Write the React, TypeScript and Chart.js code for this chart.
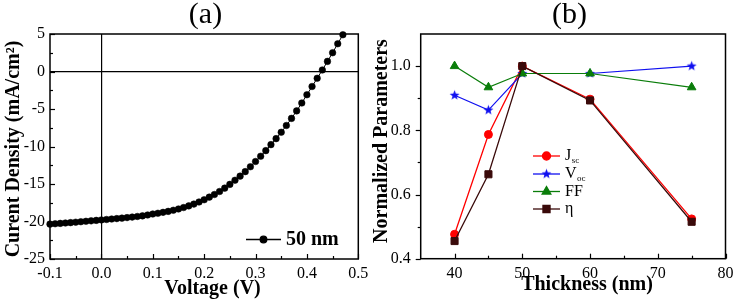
import React, { useEffect, useRef } from "react";
import { Chart, registerables } from "chart.js";
import { drawPoint } from "chart.js/helpers";

Chart.register(...registerables);

const FONT = "'Liberation Serif', 'Times New Roman', serif";

// ---------- Panel (a): J-V curve ----------
const voltage = [
  -0.1, -0.09, -0.08, -0.07, -0.06, -0.05, -0.04, -0.03, -0.02, -0.01,
  0.0, 0.01, 0.02, 0.03, 0.04, 0.05, 0.06, 0.07, 0.08, 0.09,
  0.1, 0.11, 0.12, 0.13, 0.14, 0.15, 0.16, 0.17, 0.18, 0.19,
  0.2, 0.21, 0.22, 0.23, 0.24, 0.25, 0.26, 0.27, 0.28, 0.29,
  0.3, 0.31, 0.32, 0.33, 0.34, 0.35, 0.36, 0.37, 0.38, 0.39,
  0.4, 0.41, 0.42, 0.43, 0.44, 0.45, 0.46, 0.47,
];
const currentDensity = [
  -20.35, -20.3, -20.25, -20.2, -20.15, -20.09, -20.03, -19.97, -19.91, -19.85,
  -19.79, -19.73, -19.67, -19.61, -19.55, -19.48, -19.41, -19.33, -19.25, -19.13,
  -19.0, -18.9, -18.78, -18.65, -18.5, -18.33, -18.14, -17.92, -17.68, -17.4,
  -17.1, -16.75, -16.4, -16.0, -15.55, -15.05, -14.5, -13.95, -13.35, -12.7,
  -12.0, -11.3, -10.55, -9.75, -8.95, -8.1, -7.2, -6.25, -5.25, -4.2,
  -3.1, -2.0, -0.9, 0.2, 1.35, 2.5, 3.7, 4.9,
];
const voltageTicks = [-0.1, 0, 0.1, 0.2, 0.3, 0.4, 0.5];
const voltageMinorTicks = [-0.05, 0.05, 0.15, 0.25, 0.35, 0.45];
const currentTicks = [5, 0, -5, -10, -15, -20, -25];
const currentMinorTicks = [2.5, -2.5, -7.5, -12.5, -17.5, -22.5];
const seriesLabelA = "50 nm";

// ---------- Panel (b): normalized parameters ----------
const thickness = [40, 45, 50, 60, 75];
const jsc = [0.476, 0.787, 1.0, 0.897, 0.524];
const voc = [0.909, 0.863, 0.977, 0.977, 1.0];
const ff = [1.0, 0.934, 0.977, 0.977, 0.934];
const eta = [0.455, 0.663, 1.0, 0.893, 0.515];
const thicknessTicks = [40, 50, 60, 70, 80];
const thicknessMinorTicks = [45, 55, 65, 75];
const paramTicks = [0.4, 0.6, 0.8, 1.0];
const paramMinorTicks = [0.5, 0.7, 0.9];

const RED = "#ff0000";
const BLUE = "#1010f0";
const GREEN = "#0a7d0a";
const DARK = "#3a0a0a";

function makeStar(color: string, r: number) {
  const c = document.createElement("canvas");
  const s = Math.ceil(r * 2 + 2);
  c.width = s;
  c.height = s;
  const g = c.getContext("2d")!;
  g.fillStyle = color;
  g.beginPath();
  for (let i = 0; i < 10; i++) {
    const rr = i % 2 === 0 ? r : r * 0.42;
    const a = -Math.PI / 2 + (i * Math.PI) / 5;
    g.lineTo(s / 2 + rr * Math.cos(a), s / 2 + rr * Math.sin(a));
  }
  g.closePath();
  g.fill();
  return c;
}

const decorPlugin = {
  id: "decor",
  afterDatasetsDraw(chart: any, _args: any, opts: any) {
    const ctx = chart.ctx;
    const { left, right, top, bottom } = chart.chartArea;
    const xs = chart.scales.x;
    const ys = chart.scales.y;
    ctx.save();
    ctx.strokeStyle = "#000";
    ctx.lineWidth = 1.2;
    const tickX = (vals: number[], len: number) => {
      vals.forEach((v) => {
        const px = Math.round(xs.getPixelForValue(v)) + 0.5;
        ctx.beginPath();
        ctx.moveTo(px, bottom);
        ctx.lineTo(px, bottom - len * opts.xDir);
        ctx.stroke();
      });
    };
    const tickY = (vals: number[], len: number) => {
      vals.forEach((v) => {
        const py = Math.round(ys.getPixelForValue(v)) + 0.5;
        ctx.beginPath();
        ctx.moveTo(left, py);
        ctx.lineTo(left + len * opts.yDir, py);
        ctx.stroke();
      });
    };
    tickX(opts.xMajor, 5);
    tickX(opts.xMinor, 3);
    tickY(opts.yMajor, 5);
    tickY(opts.yMinor, 3);
    ctx.lineWidth = 1.5;
    ctx.strokeRect(left, top, right - left, bottom - top);
    ctx.restore();
  },
  afterDraw(chart: any, _args: any, opts: any) {
    const ctx = chart.ctx;
    ctx.save();
    ctx.fillStyle = "#000";
    ctx.textAlign = "center";
    ctx.textBaseline = "middle";
    ctx.font = `30px ${FONT}`;
    ctx.fillText(opts.title, opts.titleX, opts.titleY);
    ctx.font = `bold 20px ${FONT}`;
    ctx.fillText(opts.xTitle, opts.xTitleX, opts.xTitleY);
    ctx.save();
    ctx.translate(opts.yTitleX, opts.yTitleY);
    ctx.rotate(-Math.PI / 2);
    ctx.fillText(opts.yTitle, 0, 0);
    ctx.restore();

    (opts.legend || []).forEach((item: any) => {
      ctx.strokeStyle = item.color;
      ctx.fillStyle = item.color;
      ctx.lineWidth = 1.3;
      ctx.beginPath();
      ctx.moveTo(item.x0, item.y);
      ctx.lineTo(item.x1, item.y);
      ctx.stroke();
      drawPoint(
        ctx,
        { pointStyle: item.style, radius: item.radius, rotation: 0, borderWidth: 1 },
        (item.x0 + item.x1) / 2,
        item.y
      );
      ctx.fillStyle = "#000";
      ctx.textAlign = "left";
      ctx.textBaseline = "middle";
      ctx.font = `${item.bold ? "bold " : ""}${item.size}px ${FONT}`;
      ctx.fillText(item.label, item.tx, item.y);
      if (item.sub) {
        const w = ctx.measureText(item.label).width;
        ctx.font = `${item.subSize}px ${FONT}`;
        ctx.fillText(item.sub, item.tx + w + 0.5, item.y + 5);
      }
    });
    ctx.restore();
  },
};

function tickFont() {
  return { family: FONT, size: 16 };
}

function App() {
  const refA = useRef<HTMLCanvasElement | null>(null);
  const refB = useRef<HTMLCanvasElement | null>(null);

  useEffect(() => {
    document.body.style.margin = "0";
    const star = makeStar(BLUE, 5.2);
    const legendStar = makeStar(BLUE, 5.2);

    const chartA = new Chart(refA.current!, {
      type: "line",
      data: {
        datasets: [
          {
            label: seriesLabelA,
            data: voltage.map((v, i) => ({ x: v, y: currentDensity[i] })),
            borderColor: "#000",
            backgroundColor: "#000",
            borderWidth: 1,
            pointRadius: 3.3,
            pointBorderWidth: 0.5,
            clip: false,
          } as any,
        ],
      },
      options: {
        animation: false,
        responsive: false,
        maintainAspectRatio: false,
        layout: { padding: { top: 34, right: 21.7, left: 0, bottom: 0 } },
        plugins: {
          legend: { display: false },
          tooltip: { enabled: false },
          decor: {
            xDir: 1,
            yDir: 1,
            xMajor: voltageTicks,
            xMinor: voltageMinorTicks,
            yMajor: currentTicks,
            yMinor: currentMinorTicks,
            title: "(a)",
            titleX: 205.5,
            titleY: 15,
            xTitle: "Voltage (V)",
            xTitleX: 212.5,
            xTitleY: 288.5,
            yTitle: "Curent Density (mA/cm²)",
            yTitleX: 14,
            yTitleY: 149,
            legend: [
              {
                label: seriesLabelA,
                color: "#000",
                style: "circle",
                radius: 3.3,
                x0: 246,
                x1: 281,
                y: 239.5,
                tx: 286,
                size: 20,
                bold: true,
              },
            ],
          },
        } as any,
        scales: {
          x: {
            type: "linear",
            min: -0.1,
            max: 0.5,
            afterBuildTicks: (s: any) => {
              s.ticks = voltageTicks.map((value) => ({ value }));
            },
            afterFit: (s: any) => {
              s.height = 46;
              s.paddingLeft = 0;
              s.paddingRight = 0;
            },
            border: { display: false },
            grid: {
              drawTicks: false,
              lineWidth: 1.2,
              color: (c: any) =>
                c.tick && Math.abs(c.tick.value) < 1e-9 ? "#000" : "rgba(0,0,0,0)",
            },
            ticks: {
              padding: 5,
              color: "#000",
              font: tickFont(),
              maxRotation: 0,
              autoSkip: false,
              callback: (v: any) => Number(v).toFixed(1),
            },
          },
          y: {
            type: "linear",
            min: -25,
            max: 5,
            afterBuildTicks: (s: any) => {
              s.ticks = currentTicks.map((value) => ({ value }));
            },
            afterFit: (s: any) => {
              s.width = 50;
              s.paddingTop = 0;
              s.paddingBottom = 0;
            },
            border: { display: false },
            grid: {
              drawTicks: false,
              lineWidth: 1.2,
              color: (c: any) =>
                c.tick && Math.abs(c.tick.value) < 1e-9 ? "#000" : "rgba(0,0,0,0)",
            },
            ticks: {
              padding: 5,
              color: "#000",
              font: tickFont(),
              autoSkip: false,
              callback: (v: any) => String(v),
            },
          },
        },
      },
      plugins: [decorPlugin as any],
    });

    const chartB = new Chart(refB.current!, {
      type: "line",
      data: {
        datasets: [
          {
            label: "Jsc",
            data: thickness.map((t, i) => ({ x: t, y: jsc[i] })),
            borderColor: RED,
            backgroundColor: RED,
            borderWidth: 1.3,
            pointStyle: "circle",
            pointRadius: 4,
            pointBorderWidth: 1,
            order: 3,
          },
          {
            label: "Voc",
            data: thickness.map((t, i) => ({ x: t, y: voc[i] })),
            borderColor: BLUE,
            backgroundColor: BLUE,
            borderWidth: 1.2,
            pointStyle: star as any,
            pointRadius: 5,
            order: 2,
          },
          {
            label: "FF",
            data: thickness.map((t, i) => ({ x: t, y: ff[i] })),
            borderColor: GREEN,
            backgroundColor: GREEN,
            borderWidth: 1.2,
            pointStyle: "triangle",
            pointRadius: 5,
            pointBorderWidth: 1,
            order: 1,
          },
          {
            label: "η",
            data: thickness.map((t, i) => ({ x: t, y: eta[i] })),
            borderColor: DARK,
            backgroundColor: DARK,
            borderWidth: 1.3,
            pointStyle: "rect",
            pointRadius: 5,
            pointBorderWidth: 1,
            order: 0,
          },
        ] as any,
      },
      options: {
        animation: false,
        responsive: false,
        maintainAspectRatio: false,
        layout: { padding: { top: 34, right: 8.5, left: 0, bottom: 0 } },
        plugins: {
          legend: { display: false },
          tooltip: { enabled: false },
          decor: {
            xDir: 1,
            yDir: -1,
            xMajor: thicknessTicks,
            xMinor: thicknessMinorTicks,
            yMajor: paramTicks,
            yMinor: paramMinorTicks,
            title: "(b)",
            titleX: 202.5,
            titleY: 15,
            xTitle: "Thickness (nm)",
            xTitleX: 220,
            xTitleY: 285,
            yTitle: "Normalized Parameters",
            yTitleX: 14.5,
            yTitleY: 141,
            legend: [
              { label: "J", sub: "sc", color: RED, style: "circle", radius: 4, x0: 166, x1: 193, y: 156, tx: 198, size: 16, subSize: 9 },
              { label: "V", sub: "oc", color: BLUE, style: legendStar, radius: 5, x0: 166, x1: 193, y: 174, tx: 198, size: 16, subSize: 9 },
              { label: "FF", color: GREEN, style: "triangle", radius: 5, x0: 166, x1: 193, y: 191.5, tx: 198, size: 16 },
              { label: "η", color: DARK, style: "rect", radius: 5, x0: 166, x1: 193, y: 209, tx: 198, size: 16 },
            ],
          },
        } as any,
        scales: {
          x: {
            type: "linear",
            min: 35,
            max: 80,
            afterBuildTicks: (s: any) => {
              s.ticks = thicknessTicks.map((value) => ({ value }));
            },
            afterFit: (s: any) => {
              s.height = 46.3;
              s.paddingLeft = 0;
              s.paddingRight = 0;
            },
            border: { display: false },
            grid: { display: false, drawTicks: false },
            ticks: {
              padding: 5,
              color: "#000",
              font: tickFont(),
              maxRotation: 0,
              autoSkip: false,
              callback: (v: any) => String(v),
            },
          },
          y: {
            type: "linear",
            min: 0.4,
            max: 1.1,
            afterBuildTicks: (s: any) => {
              s.ticks = paramTicks.map((value) => ({ value }));
            },
            afterFit: (s: any) => {
              s.width = 53.7;
              s.paddingTop = 0;
              s.paddingBottom = 0;
            },
            border: { display: false },
            grid: { display: false, drawTicks: false },
            ticks: {
              padding: 10,
              color: "#000",
              font: tickFont(),
              autoSkip: false,
              callback: (v: any) => Number(v).toFixed(1),
            },
          },
        },
      },
      plugins: [decorPlugin as any],
    });

    return () => {
      chartA.destroy();
      chartB.destroy();
    };
  }, []);

  return (
    <div style={{ position: "relative", width: 734, height: 305, background: "#fff" }}>
      <canvas
        ref={refA}
        width={380}
        height={305}
        style={{ position: "absolute", left: 0, top: 0, width: 380, height: 305 }}
      />
      <canvas
        ref={refB}
        width={367}
        height={305}
        style={{ position: "absolute", left: 367, top: 0, width: 367, height: 305 }}
      />
    </div>
  );
}

export default App;
